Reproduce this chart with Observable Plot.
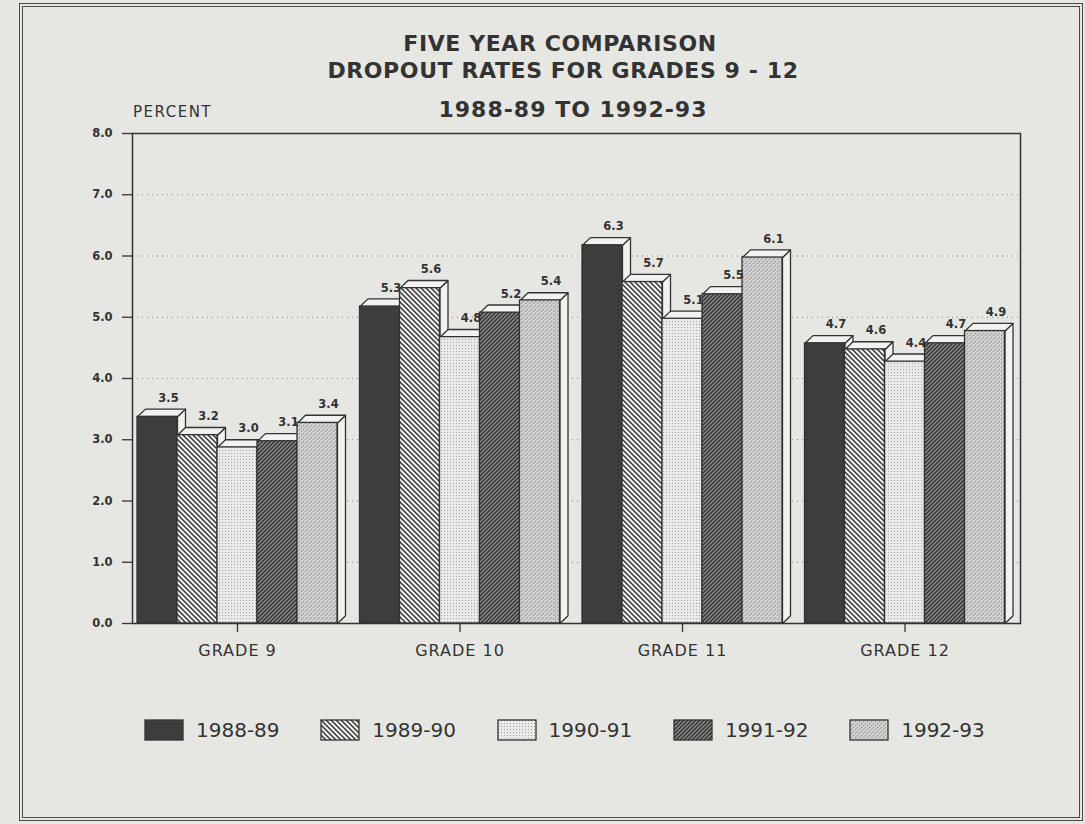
<!DOCTYPE html>
<html><head><meta charset="utf-8">
<script src="https://cdn.jsdelivr.net/npm/d3@7"></script>
<script src="https://cdn.jsdelivr.net/npm/@observablehq/plot@0.6"></script>
<style>
html,body{margin:0;padding:0;background:#e6e6e3;}
#page{position:absolute;left:19px;top:3px;width:1064px;height:818px;box-sizing:border-box;border:4px double #4a4a4a;font-family:"DejaVu Sans",sans-serif;color:#333;}
#header{position:relative;height:118px;}
.t{position:absolute;white-space:nowrap;font-weight:bold;transform:translateX(-50%);line-height:1;font-size:22px;}
#percent{position:absolute;left:110px;top:98px;font-size:15px;line-height:1;letter-spacing:1.5px;white-space:nowrap;}
#chart svg{display:block;}
#legend{position:relative;height:120px;}
.item{position:absolute;top:34px;display:flex;align-items:center;white-space:nowrap;font-size:20px;line-height:1;}
.item svg{display:block;margin-right:12px;}
</style></head>
<body>
<svg width="0" height="0" style="position:absolute">
<defs>
<pattern id="pat0" patternUnits="userSpaceOnUse" width="4" height="4"><rect width="4" height="4" fill="#3c3c3c"/><rect x="1" y="2" width="1" height="1" fill="#4a4a4a"/></pattern>
<pattern id="pat1" patternUnits="userSpaceOnUse" width="5" height="5"><rect width="5" height="5" fill="#eeeeec"/><path d="M-1,-1L6,6M-1,4L1,6M4,-1L6,1" stroke="#333" stroke-width="1.4"/></pattern>
<pattern id="pat2" patternUnits="userSpaceOnUse" width="3" height="3"><rect width="3" height="3" fill="#e9e9e7"/><rect x="1" y="1" width="1" height="1" fill="#a5a5a3"/></pattern>
<pattern id="pat3" patternUnits="userSpaceOnUse" width="4" height="4"><rect width="4" height="4" fill="#8c8c8a"/><path d="M-1,5L5,-1M-1,1L1,-1M3,5L5,3" stroke="#2e2e2e" stroke-width="1.3"/></pattern>
<pattern id="pat4" patternUnits="userSpaceOnUse" width="4" height="4"><rect width="4" height="4" fill="#cfcfcd"/><rect x="0" y="0" width="1" height="1" fill="#8a8a88"/><rect x="2" y="2" width="1" height="1" fill="#8a8a88"/><rect x="3" y="1" width="1" height="1" fill="#b0b0ae"/></pattern>
</defs>
</svg>
<div id="page">
  <div id="header">
    <div class="t" style="left:537px;top:25.5px;letter-spacing:0.6px;">FIVE YEAR COMPARISON</div>
    <div class="t" style="left:540px;top:52.5px;letter-spacing:0.6px;">DROPOUT RATES FOR GRADES 9 - 12</div>
    <div class="t" style="left:550px;top:92px;letter-spacing:1px;">1988-89 TO 1992-93</div>
    <div id="percent">PERCENT</div>
  </div>
  <div id="chart"></div>
  <div id="legend"></div>
</div>
<script>
// ---- data ----
const grades = ["GRADE 9", "GRADE 10", "GRADE 11", "GRADE 12"];
const years = ["1988-89", "1989-90", "1990-91", "1991-92", "1992-93"];
const rate198889 = [3.5, 5.3, 6.3, 4.7];
const rate198990 = [3.2, 5.6, 5.7, 4.6];
const rate199091 = [3.0, 4.8, 5.1, 4.4];
const rate199192 = [3.1, 5.2, 5.5, 4.7];
const rate199293 = [3.4, 5.4, 6.1, 4.9];
const yTicks = [0, 1, 2, 3, 4, 5, 6, 7, 8];
const gridTicks = [1, 2, 3, 4, 5, 6, 7];

// ---- layout constants ----
const GROUP = 5.5625;   // group spacing in bar widths
const DX = 0.2;         // 3D depth, x (bar widths)
const DY = 0.125;       // 3D depth, y (value units)
const FACE = "#f2f2f0";
const INK = "#333";

const series = [rate198889, rate198990, rate199091, rate199192, rate199293];
const rows = [];
grades.forEach((g, gi) => {
  years.forEach((yr, i) => {
    const x1 = gi * GROUP + i;
    rows.push({grade: g, year: yr, yi: i, value: series[i][gi], x1, x2: x1 + 1});
  });
});
const sidePts = [], topPts = [];
rows.forEach((r, k) => {
  const v = r.value, f = v - DY;
  [[r.x2, 0], [r.x2 + DX, DY], [r.x2 + DX, v], [r.x2, f], [r.x2, 0]]
    .forEach(([x, y]) => sidePts.push({id: k, x, y}));
  [[r.x1, f], [r.x2, f], [r.x2 + DX, v], [r.x1 + DX, v], [r.x1, f]]
    .forEach(([x, y]) => topPts.push({id: k, x, y}));
});
const centers = grades.map((g, gi) => gi * GROUP + 2.5);

const chart = Plot.plot({
  width: 1056,
  height: 560,
  marginLeft: 109,
  marginRight: 59,
  marginTop: 8,
  marginBottom: 62,
  style: {background: "transparent", fontFamily: "DejaVu Sans, sans-serif", color: INK},
  x: {domain: [-0.125, 22.075], axis: null},
  y: {domain: [0, 8], axis: null},
  marks: [
    Plot.gridY(gridTicks, {stroke: "#777", strokeOpacity: 0.9, strokeDasharray: "1,4"}),
    Plot.line(sidePts, {x: "x", y: "y", z: "id", fill: FACE, stroke: INK, strokeWidth: 1.3, curve: "linear"}),
    Plot.line(topPts, {x: "x", y: "y", z: "id", fill: FACE, stroke: INK, strokeWidth: 1.3, curve: "linear"}),
    ...years.map((yr, i) => Plot.rect(rows.filter(r => r.yi === i), {
      x1: "x1", x2: "x2", y1: () => 0, y2: d => d.value - DY,
      fill: `url(#pat${i})`, stroke: INK, strokeWidth: 1.3
    })),
    Plot.text(rows, {x: d => (d.x1 + d.x2) / 2, y: "value", text: d => d.value.toFixed(1),
      dx: 11, dy: -11, fontSize: 11.5, fontWeight: "bold", fill: INK}),
    Plot.frame({stroke: INK, strokeWidth: 1.5}),
    Plot.axisY(yTicks, {tickFormat: d => d.toFixed(1), tickSize: 10, tickPadding: 10,
      fontSize: 11.5, fontWeight: "bold", stroke: INK, strokeWidth: 1.3, label: null}),
    Plot.axisX(centers, {tickFormat: d => grades[Math.round((d - 2.5) / GROUP)], tickSize: 9,
      tickPadding: 12, fontSize: 16, stroke: INK, strokeWidth: 1.3, label: null})
  ]
});
d3.select(chart).selectAll("text").filter(function(){ return this.closest("g[aria-label='x-axis tick label']"); })
  .style("letter-spacing", "1px");
document.getElementById("chart").appendChild(chart);

// ---- legend ----
const legend = d3.select("#legend");
years.forEach((yr, i) => {
  const it = legend.append("div").attr("class", "item").style("left", (121 + 176.3 * i) + "px");
  const s = it.append("svg").attr("width", 40).attr("height", 22);
  s.append("rect").attr("x", 1).attr("y", 1).attr("width", 38).attr("height", 20)
    .attr("fill", `url(#pat${i})`).attr("stroke", INK).attr("stroke-width", 1.3);
  it.append("span").text(yr);
});
</script>
</body></html>
